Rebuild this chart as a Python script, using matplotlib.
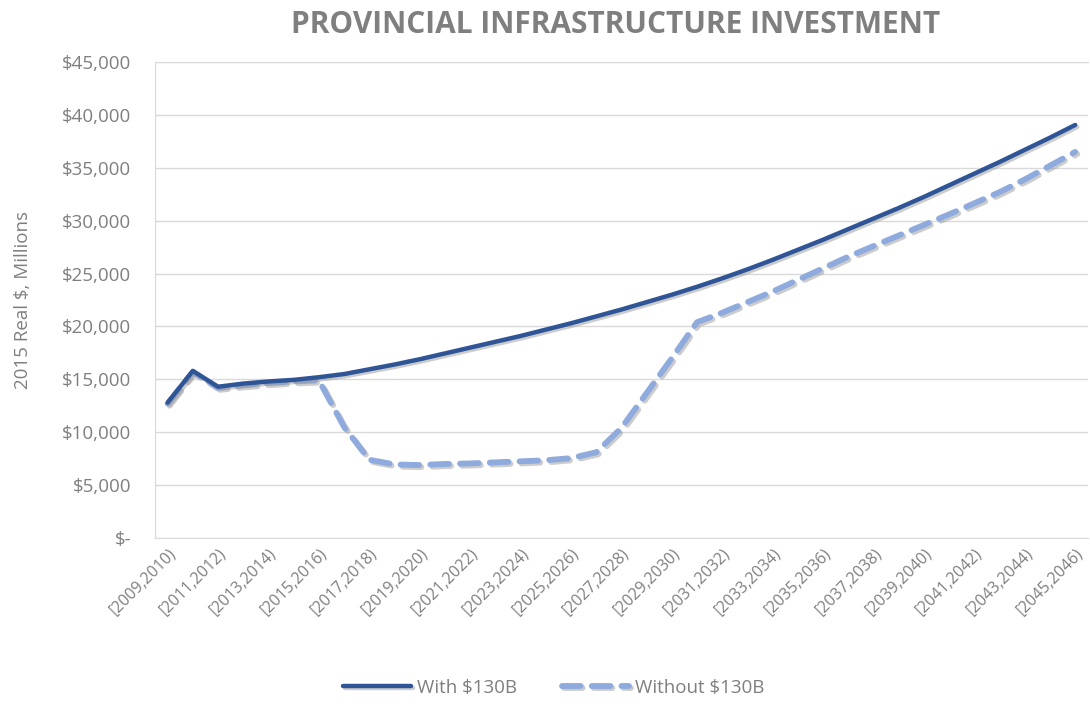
"""Provincial infrastructure investment, with and without $130B"""

import matplotlib
matplotlib.use("Agg")
import matplotlib.pyplot as plt
import matplotlib.patheffects as pe
from matplotlib.ticker import FuncFormatter, MultipleLocator

# годы (начало интервала [год, год+1))
years = list(range(2009, 2046))
labels = [f"[{y},{y + 1})" for y in years]

# с программой $130B, млн $ 2015 г.
with_130b = [12800, 15800, 14300, 14600, 14800, 14950, 15200, 15500, 15950, 16400,
             16900, 17450, 18000, 18550, 19100, 19700, 20300, 20950, 21600, 22300,
             23000, 23750, 24550, 25400, 26300, 27250, 28200, 29200, 30200, 31200,
             32250, 33350, 34450, 35550, 36700, 37850, 39050]

# без программы $130B
without_130b = [12700, 15700, 14200, 14450, 14650, 14800, 14900, 10500, 7400, 6950,
                6900, 7000, 7050, 7150, 7250, 7350, 7550, 8100, 10400, 13700,
                17000, 20400, 21300, 22300, 23300, 24400, 25500, 26600, 27600, 28600,
                29600, 30600, 31650, 32700, 33900, 35200, 36500]

TEXT = "#7f7f7f"
GRID = "#d9d9d9"

plt.rcParams["font.family"] = ["Open Sans", "DejaVu Sans"]

fig = plt.figure(figsize=(10.9, 7.04), dpi=100)
ax = fig.add_axes([0.1422, 0.2358, 0.8558, 0.6761])

x = list(range(len(years)))
shadow = [pe.SimpleLineShadow(offset=(1.5, -1.5), shadow_color="#9a9a9a", alpha=0.5), pe.Normal()]
ax.plot(x, with_130b, color="#2f5597", lw=3.2, solid_capstyle="round", solid_joinstyle="round",
        label="With $130B", path_effects=shadow, zorder=3)
ax.plot(x, without_130b, color="#8faadc", lw=4.2, dashes=(3.2, 1.9),
        dash_capstyle="round", dash_joinstyle="round", label="Without $130B",
        path_effects=shadow, zorder=2)

ax.set_xlim(-0.5, len(years) - 0.5)
ax.set_ylim(0, 45000)
ax.yaxis.set_major_locator(MultipleLocator(5000))
ax.yaxis.set_major_formatter(FuncFormatter(lambda v, p: "$-" if v == 0 else f"${v:,.0f}"))
ax.grid(axis="y", color=GRID, lw=1)
ax.set_axisbelow(True)

ax.set_xticks(x[::2])
ax.set_xticklabels(labels[::2], rotation=45, ha="right", va="top",
                   rotation_mode="anchor", fontsize=11.5, color=TEXT)
ax.tick_params(axis="x", length=0, pad=5)
ax.tick_params(axis="y", length=0, pad=17, labelsize=13.5, labelcolor=TEXT)

for s in ax.spines.values():
    s.set_color(GRID)
ax.spines["right"].set_visible(False)

ax.set_ylabel("2015 Real $, Millions", fontsize=13.5, color=TEXT, labelpad=22)

fig.text(0.565, 0.965, "PROVINCIAL INFRASTRUCTURE INVESTMENT", ha="center", va="center",
         fontsize=21.5, fontweight="bold", color=TEXT)

fig.legend(loc="center", bbox_to_anchor=(0.508, 0.023), ncol=2, frameon=False,
           fontsize=13.5, labelcolor=TEXT, handlelength=3.6, columnspacing=2.4,
           handletextpad=0.3)

fig.savefig("out.png", dpi=100)
